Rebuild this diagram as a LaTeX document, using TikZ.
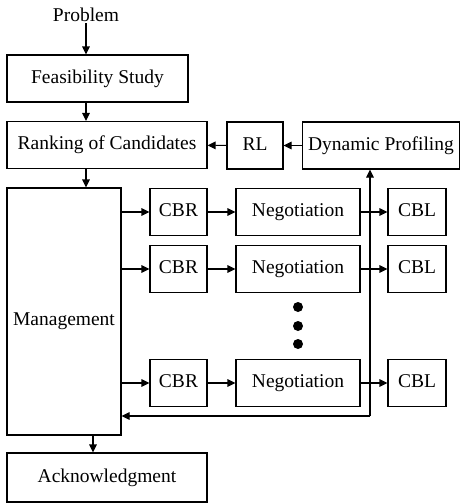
\documentclass[tikz,border=0pt]{standalone}
\usepackage{fontspec}
\setmainfont{Liberation Serif}
\usetikzlibrary{arrows.meta,positioning}

\begin{document}
\begin{tikzpicture}[
  x=1pt, y=-1pt,
  font=\fontsize{19.5}{23}\selectfont,
  box/.style={draw=black, line width=1.1pt, fill=white, inner sep=2pt,
              minimum height=47pt, text height=13.5pt, text depth=4pt},
  arr/.style={-{Triangle[length=8pt,width=7.5pt]}, line width=1.1pt},
  dot/.style={circle, fill=black, inner sep=0pt, minimum size=10pt},
]
\useasboundingbox (0,0) rectangle (461,504);

% ---- top chain ----
\node[inner sep=1pt] (prob) at (86,15) {Problem};
\node[box, minimum width=181pt] (feas) at (97.5,78.5) {Feasibility Study};
\node[box, minimum width=200pt] (rank) at (107,145) {Ranking of Candidates};
\node[box, minimum width=56pt]  (rl)   at (255,145.5) {RL};
\node[box, minimum width=157pt] (dp)   at (381,145.5) {Dynamic Profiling};

\draw[arr] (prob.south) -- (prob.south |- feas.north);
\draw[arr] (feas.south -| prob) -- (rank.north -| prob);
\draw[arr] (dp) -- (rl);
\draw[arr] (rl) -- (rank);

% ---- management and the case rows ----
\node[box, minimum width=114pt, minimum height=247pt,
      label={[yshift=-10pt]center:Management}] (mgmt) at (64,311.5) {};
\draw[arr] (rank.south -| prob) -- (mgmt.north -| prob);

\foreach \row/\y in {1/212, 2/269, 3/383} {
  \node[box, minimum width=57pt]  (cbr\row) at (178.5,\y) {CBR};
  \node[box, minimum width=124pt] (neg\row) at (298,\y)   {Negotiation};
  \node[box, minimum width=58pt]  (cbl\row) at (417,\y)   {CBL};
  \draw[arr] (mgmt.east |- cbr\row) -- (cbr\row);
  \draw[arr] (cbr\row) -- (neg\row);
  \draw[arr] (neg\row) -- (cbl\row);
}

% ---- dots between rows ----
\node[dot] (d1) at (298,307) {};
\node[dot] (d2) at (298,326) {};
\node[dot] (d3) at (298,344) {};

% ---- feedback loop ----
\coordinate (fb) at (370,416);
\draw[arr] (fb) -- (fb |- dp.south);
\draw[arr] (fb) -- (fb -| mgmt.east);

% ---- end ----
\node[box, minimum width=200pt, minimum height=49pt] (ack) at (107,477.5) {Acknowledgment};
\draw[arr] ([xshift=29pt]mgmt.south) -- ([xshift=29pt]mgmt.south |- ack.north);

\end{tikzpicture}
\end{document}
